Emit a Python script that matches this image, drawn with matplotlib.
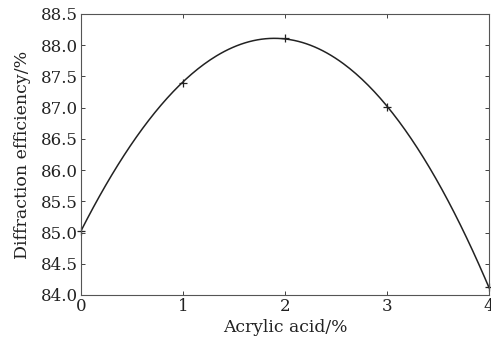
import numpy as np
import matplotlib
matplotlib.use("Agg")
import matplotlib.pyplot as plt

acrylic = [0, 1, 2, 3, 4]
efficiency = [85.03, 87.40, 88.12, 87.01, 84.12]

x_ticks = [0, 1, 2, 3, 4]
y_ticks = [84.0, 84.5, 85.0, 85.5, 86.0, 86.5, 87.0, 87.5, 88.0, 88.5]

plt.rcParams["font.family"] = ["DejaVu Serif"]
plt.rcParams["mathtext.fontset"] = "dejavuserif"

fig = plt.figure(figsize=(4.91, 3.41), dpi=100)
ax = fig.add_axes([0.165, 0.135, 0.831, 0.824])

# smooth fitted curve through the measured points
coef = np.polyfit(acrylic, efficiency, 3)
xs = np.linspace(0, 4, 200)
ax.plot(xs, np.polyval(coef, xs), color="#222222", lw=1.1)
ax.plot(acrylic, efficiency, "+", color="#222222", ms=6, mew=0.9, clip_on=False)

ax.set_xlim(0, 4)
ax.set_ylim(84.0, 88.5)
ax.set_xticks(x_ticks)
ax.set_yticks(y_ticks)
ax.set_yticklabels([f"{v:.1f}" for v in y_ticks])
ax.tick_params(direction="in", top=True, right=True, length=3, width=0.6,
               labelsize=12, colors="#222222", pad=2)
for s in ax.spines.values():
    s.set_linewidth(0.8)
    s.set_color("#555555")

ax.set_xlabel("Acrylic acid/%", fontsize=12.3, labelpad=3, color="#222222")
ax.set_ylabel("Diffraction efficiency/%", fontsize=12.5, labelpad=7, color="#222222")

fig.savefig("out.png", dpi=100)
